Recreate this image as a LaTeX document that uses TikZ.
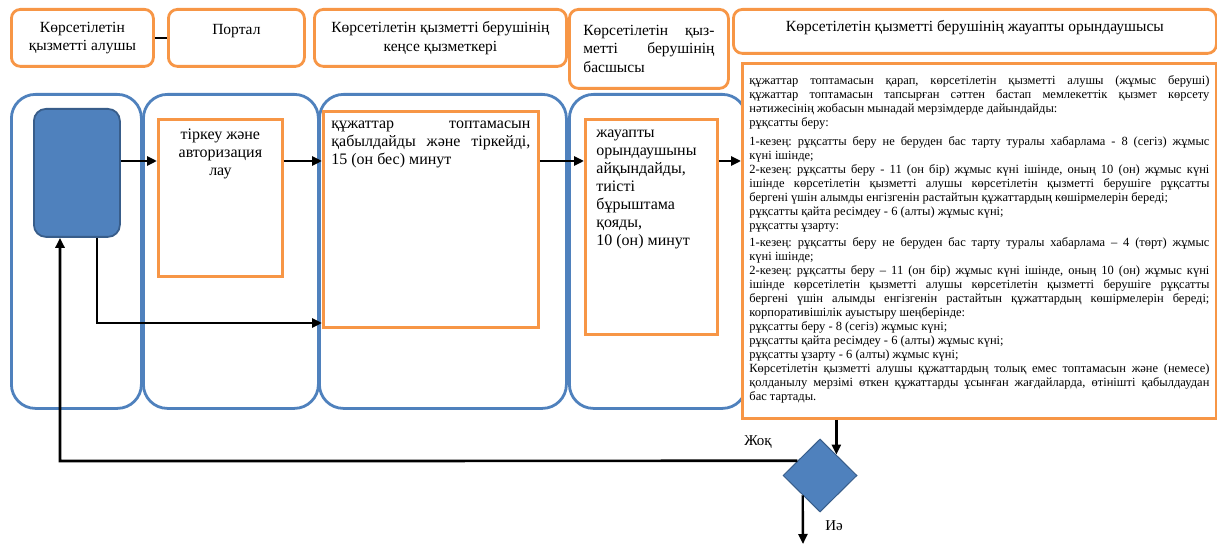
\documentclass[tikz,border=0pt]{standalone}
\usepackage{fontspec}
\setmainfont{Liberation Serif}
\usetikzlibrary{shapes.geometric,arrows.meta}
\definecolor{orng}{HTML}{F79646}
\definecolor{lblue}{HTML}{4F81BD}
\definecolor{dblue}{HTML}{385D8A}
\frenchspacing
\begin{document}
\begin{tikzpicture}[x=1pt,y=-1pt,
 hdr/.style={draw=orng,line width=2.8pt,rounded corners=9pt,fill=white,inner sep=0pt,
   font=\fontsize{15.5}{18.5}\selectfont,align=center,anchor=north west},
 lane/.style={draw=lblue,line width=2.8pt,rounded corners=24pt,inner sep=0pt,anchor=north west,minimum height=314pt},
 pbox/.style={draw=orng,line width=2.8pt,fill=white,anchor=north west,font=\fontsize{16}{18}\selectfont},
 arr/.style={line width=2.7pt,-{Triangle[length=10pt,width=9pt]}},
 lbl/.style={font=\fontsize{15}{17}\selectfont,inner sep=0pt}
 ]
\useasboundingbox (0,0) rectangle (1217,545);
% lanes
\node[lane,minimum width=130pt] (lane1) at (10,93) {};
\node[lane,minimum width=175pt] (lane2) at (142,93) {};
\node[lane,minimum width=247pt] (lane3) at (318,93) {};
\node[lane,minimum width=177pt] (lane4) at (568,93) {};
% headers
\node[hdr,minimum width=142pt,minimum height=57pt] (h1) at (10,8) {Көрсетілетін\\қызметті алушы};
\node[hdr,minimum width=136pt,minimum height=57pt] (h2) at (167,8) {\parbox[t][28pt][t]{120pt}{\centering Портал}};
\node[hdr,minimum width=252pt,minimum height=57pt] (h3) at (313,8) {Көрсетілетін қызметті берушінің\\кеңсе қызметкері};
\node[hdr,minimum width=159pt,minimum height=79pt,text width=131pt,align=left] (h4) at (568,8) {Көрсетілетін\hfill қыз-\\метті\hfill берушінің\\басшысы};
\node[hdr,minimum width=483pt,minimum height=44pt] (h5) at (732,8) {\parbox[t][22pt][t]{460pt}{\centering Көрсетілетін қызметті берушінің жауапты орындаушысы}};
\draw[line width=2.2pt] (h1.east) -- (h2.west);
% start
\node[fill=lblue,draw=dblue,line width=1.8pt,rounded corners=12pt,minimum width=86pt,minimum height=128pt,anchor=north west,inner sep=0pt] (start) at (33,108) {};
% process boxes
\node[pbox,inner xsep=7pt,inner ysep=10pt] (p2) at (157,118) {\parbox[t][137pt][t]{110pt}{\centering тіркеу және\\авторизация\\лау}};
\node[pbox,inner xsep=8pt,inner ysep=10pt] (p3) at (322,110) {\parbox[t][196pt][t]{199pt}{\hyphenpenalty=10000 құжаттар топтамасын\linebreak қабылдайды және тіркейді,\linebreak 15 (он бес) минут}};
\node[pbox,inner xsep=11pt,inner ysep=11pt] (p4) at (584,118) {\parbox[t][193pt][t]{110pt}{\raggedright жауапты\\орындаушыны\\айқындайды,\\тиісті\\бұрыштама\\қояды,\\10 (он) минут}};
\node[pbox,inner xsep=7pt,inner ysep=12pt] (p5) at (741,62) {\parbox[t][331pt][t]{460pt}{\fontsize{12.5}{14}\selectfont\hyphenpenalty=10000 \parindent=0pt
құжаттар топтамасын қарап, көрсетілетін қызметті алушы (жұмыс беруші)\linebreak
құжаттар топтамасын тапсырған сәттен бастап мемлекеттік қызмет көрсету\linebreak
нәтижесінің жобасын мынадай мерзімдерде дайындайды:\par
рұқсатты беру:\par\vspace{5pt}
1-кезең: рұқсатты беру не беруден бас тарту туралы хабарлама - 8 (сегіз) жұмыс\linebreak
күні ішінде;\par
2-кезең: рұқсатты беру - 11 (он бір) жұмыс күні ішінде, оның 10 (он) жұмыс күні\linebreak
ішінде көрсетілетін қызметті алушы көрсетілетін қызметті берушіге рұқсатты\linebreak
бергені үшін алымды енгізгенін растайтын құжаттардың көшірмелерін береді;\par
рұқсатты қайта ресімдеу - 6 (алты) жұмыс күні;\par
рұқсатты ұзарту:\par\vspace{3pt}
1-кезең: рұқсатты беру не беруден бас тарту туралы хабарлама – 4 (төрт) жұмыс\linebreak
күні ішінде;\par
2-кезең: рұқсатты беру – 11 (он бір) жұмыс күні ішінде, оның 10 (он) жұмыс күні\linebreak
ішінде көрсетілетін қызметті алушы көрсетілетін қызметті берушіге рұқсатты\linebreak
бергені үшін алымды енгізгенін растайтын құжаттардың көшірмелерін береді;\linebreak
корпоративішілік ауыстыру шеңберінде:\par
рұқсатты беру - 8 (сегіз) жұмыс күні;\par
рұқсатты қайта ресімдеу - 6 (алты) жұмыс күні;\par
рұқсатты ұзарту - 6 (алты) жұмыс күні;\par
Көрсетілетін қызметті алушы құжаттардың толық емес топтамасын және (немесе)\linebreak
қолданылу мерзімі өткен құжаттарды ұсынған жағдайларда, өтінішті қабылдаудан\linebreak
бас тартады.}};
% decision
\node[diamond,fill=lblue,draw=dblue,line width=1pt,minimum width=74pt,minimum height=73pt,inner sep=0pt] (dia) at (820,475.5) {};
% coordinates
\coordinate (r1) at (0,161);
\coordinate (c1) at (97,323);
\coordinate (c2) at (60,461);
\coordinate (c3) at (803,544);
% arrows
\draw[arr] (start.east |- r1) -- (p2.west |- r1);
\draw[arr] (p2.east |- r1) -- (p3.west |- r1);
\draw[arr] (p3.east |- r1) -- (p4.west |- r1);
\draw[arr] (p4.east |- r1) -- (p5.west |- r1);
\draw[arr] (start.south -| c1) -- (c1) -- (p3.west |- c1);
\draw[arr,line width=2.4pt] (p5.south -| dia.52) -- (dia.52);
\draw[arr] (dia.147) -- (c2) -- (start.south -| c2);
\draw[arr,line width=2.4pt] (dia.229) -- (c3);
% labels
\node[lbl] (no) at (758,442) {Жоқ};
\node[lbl] (yes) at (834,526) {Иә};
\end{tikzpicture}
\end{document}
